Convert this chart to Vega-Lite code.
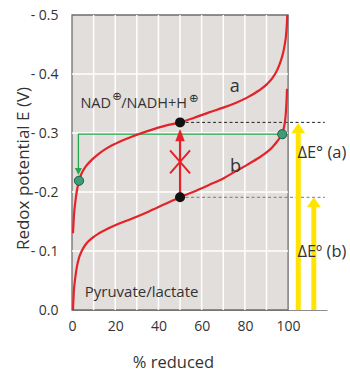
{
  "$schema": "https://vega.github.io/schema/vega-lite/v6.json",
  "width": 255,
  "height": 295,
  "autosize": "none",
  "padding": {"left": 72, "top": 15, "right": 23, "bottom": 64},
  "config": {"view": {"stroke": null}, "font": "Open Sans"},
  "encoding": {
    "x": {"field": "pct", "type": "quantitative",
      "scale": {"domain": [0, 118], "nice": false, "zero": false},
      "axis": {"values": [0, 20, 40, 60, 80, 100], "title": "% reduced", "grid": false, "ticks": false,
        "labelPadding": 9, "labelFontSize": 14, "labelColor": "#333", "labelFont": "Open Sans", "labelFlush": false,
        "domainColor": "#8c8c8c", "domainWidth": 1.2,
        "titleFont": "Open Sans", "titleFontSize": 16.5, "titleFontWeight": "normal", "titleColor": "#333",
        "titleX": 101, "titleY": 52, "titleAlign": "center", "titleBaseline": "middle"}},
    "y": {"field": "E", "type": "quantitative",
      "scale": {"domain": [-0.5, 0], "reverse": true, "nice": false},
      "axis": {"values": [-0.5, -0.4, -0.3, -0.2, -0.1, 0],
        "labelExpr": "datum.value == 0 ? '0.0' : (abs(datum.value + 0.2) < 0.001 ? '-0.2' : '- ' + format(-datum.value, '.1f'))",
        "title": "Redox potential E (V)", "grid": false, "ticks": false, "domain": false,
        "labelPadding": 14, "labelFontSize": 14, "labelColor": "#333", "labelFont": "Open Sans",
        "titleFont": "Open Sans", "titleFontSize": 17, "titleFontWeight": "normal", "titleColor": "#333",
        "titleX": -49, "titleY": 153, "titleAngle": -90, "titleAlign": "center", "titleBaseline": "middle"}}
  },
  "layer": [
    {"data": {"values": [{"pct": 0, "pct2": 100, "E": -0.5, "E2": 0}]},
     "mark": {"type": "rect", "fill": "#e2dedb", "stroke": "#6e6e6e", "strokeWidth": 1.3},
     "encoding": {"x2": {"field": "pct2"}, "y2": {"field": "E2"}}},
    {"data": {"values": [
      {"pct": 10, "E": -0.5, "E2": 0}, {"pct": 20, "E": -0.5, "E2": 0}, {"pct": 30, "E": -0.5, "E2": 0},
      {"pct": 40, "E": -0.5, "E2": 0}, {"pct": 50, "E": -0.5, "E2": 0}, {"pct": 60, "E": -0.5, "E2": 0},
      {"pct": 70, "E": -0.5, "E2": 0}, {"pct": 80, "E": -0.5, "E2": 0}, {"pct": 90, "E": -0.5, "E2": 0}]},
     "mark": {"type": "rule", "stroke": "#ffffff", "strokeWidth": 1.5},
     "encoding": {"y2": {"field": "E2"}}},
    {"data": {"values": [
      {"pct": 0, "pct2": 100, "E": -0.1}, {"pct": 0, "pct2": 100, "E": -0.2},
      {"pct": 0, "pct2": 100, "E": -0.3}, {"pct": 0, "pct2": 100, "E": -0.4}]},
     "mark": {"type": "rule", "stroke": "#ffffff", "strokeWidth": 1.5},
     "encoding": {"x2": {"field": "pct2"}}},
    {"data": {"values": [{"pct": 50, "pct2": 117, "E": -0.318, "line": "a"}, {"pct": 50, "pct2": 117, "E": -0.191, "line": "b"}]},
     "mark": {"type": "rule", "strokeDash": [3, 2.5], "strokeWidth": 1},
     "encoding": {"x2": {"field": "pct2"}, "color": {"field": "line", "type": "nominal", "scale": {"range": ["#222222", "#777777"]}, "legend": null}}},
    {"data": {"values": [{"pct": 97.3, "E": -0.298, "ord": 1}, {"pct": 2.96, "E": -0.298, "ord": 2}, {"pct": 2.96, "E": -0.238, "ord": 3}]},
     "mark": {"type": "line", "color": "#23a84e", "strokeWidth": 1.3},
     "encoding": {"order": {"field": "ord", "type": "quantitative"}}},
    {"data": {"values": [{"pct": 2.96, "E": -0.229}]},
     "mark": {"type": "point", "shape": "M0,0L1,-2L-1,-2Z", "filled": true, "color": "#23a84e", "size": 49, "opacity": 1}},
    {"data": {"values": [
      {"curve": "a", "pct": 0.46, "E": -0.130}, {"curve": "a", "pct": 0.9, "E": -0.160}, {"curve": "a", "pct": 1.25, "E": -0.174},
      {"curve": "a", "pct": 1.7, "E": -0.188}, {"curve": "a", "pct": 2.3, "E": -0.203}, {"curve": "a", "pct": 3.24, "E": -0.219},
      {"curve": "a", "pct": 4.5, "E": -0.232}, {"curve": "a", "pct": 6.3, "E": -0.243}, {"curve": "a", "pct": 9, "E": -0.254},
      {"curve": "a", "pct": 12.5, "E": -0.265}, {"curve": "a", "pct": 16, "E": -0.274}, {"curve": "a", "pct": 20.2, "E": -0.282},
      {"curve": "a", "pct": 27.9, "E": -0.294}, {"curve": "a", "pct": 35.6, "E": -0.304}, {"curve": "a", "pct": 43.3, "E": -0.3125},
      {"curve": "a", "pct": 50, "E": -0.318}, {"curve": "a", "pct": 56, "E": -0.325}, {"curve": "a", "pct": 63.4, "E": -0.335},
      {"curve": "a", "pct": 70, "E": -0.343}, {"curve": "a", "pct": 75.7, "E": -0.351}, {"curve": "a", "pct": 81, "E": -0.360},
      {"curve": "a", "pct": 86.5, "E": -0.372}, {"curve": "a", "pct": 90, "E": -0.382}, {"curve": "a", "pct": 92.7, "E": -0.393},
      {"curve": "a", "pct": 95, "E": -0.407}, {"curve": "a", "pct": 96.5, "E": -0.421}, {"curve": "a", "pct": 97.7, "E": -0.436},
      {"curve": "a", "pct": 98.5, "E": -0.451}, {"curve": "a", "pct": 99, "E": -0.464}, {"curve": "a", "pct": 99.3, "E": -0.477},
      {"curve": "a", "pct": 99.5, "E": -0.489}, {"curve": "a", "pct": 99.6, "E": -0.500},
      {"curve": "b", "pct": 0.46, "E": 0}, {"curve": "b", "pct": 0.9, "E": -0.034}, {"curve": "b", "pct": 1.25, "E": -0.047},
      {"curve": "b", "pct": 1.7, "E": -0.060}, {"curve": "b", "pct": 2.3, "E": -0.074}, {"curve": "b", "pct": 3.2, "E": -0.088},
      {"curve": "b", "pct": 4.5, "E": -0.100}, {"curve": "b", "pct": 6.3, "E": -0.111}, {"curve": "b", "pct": 9, "E": -0.121},
      {"curve": "b", "pct": 12.5, "E": -0.130}, {"curve": "b", "pct": 16, "E": -0.137}, {"curve": "b", "pct": 20.2, "E": -0.144},
      {"curve": "b", "pct": 27.9, "E": -0.155}, {"curve": "b", "pct": 35.6, "E": -0.167}, {"curve": "b", "pct": 43.3, "E": -0.180},
      {"curve": "b", "pct": 50, "E": -0.191}, {"curve": "b", "pct": 56, "E": -0.200}, {"curve": "b", "pct": 63.4, "E": -0.212},
      {"curve": "b", "pct": 70, "E": -0.223}, {"curve": "b", "pct": 75.7, "E": -0.235}, {"curve": "b", "pct": 81, "E": -0.246},
      {"curve": "b", "pct": 86.5, "E": -0.258}, {"curve": "b", "pct": 90, "E": -0.267}, {"curve": "b", "pct": 92.7, "E": -0.276},
      {"curve": "b", "pct": 95, "E": -0.286}, {"curve": "b", "pct": 96.5, "E": -0.294}, {"curve": "b", "pct": 97.3, "E": -0.300},
      {"curve": "b", "pct": 98, "E": -0.308}, {"curve": "b", "pct": 98.5, "E": -0.318}, {"curve": "b", "pct": 99, "E": -0.336},
      {"curve": "b", "pct": 99.3, "E": -0.356}, {"curve": "b", "pct": 99.5, "E": -0.375}
    ]},
     "mark": {"type": "line", "color": "#e3232a", "strokeWidth": 2.2, "interpolate": "monotone"},
     "encoding": {"detail": {"field": "curve", "type": "nominal"}}},
    {"data": {"values": [{"pct": 50, "E": -0.191, "E2": -0.287}]},
     "mark": {"type": "rule", "color": "#e3232a", "strokeWidth": 2.2},
     "encoding": {"y2": {"field": "E2"}}},
    {"data": {"values": [{"pct": 50, "E": -0.307}]},
     "mark": {"type": "point", "shape": "M0,0L1,2.6L-1,2.6Z", "filled": true, "color": "#e3232a", "size": 90, "opacity": 1}},
    {"data": {"values": [{"pct": 50, "E": -0.251}]},
     "mark": {"type": "point", "shape": "M-1,-1.15L1,1.15M-1,1.15L1,-1.15", "filled": false, "stroke": "#e3232a", "strokeWidth": 2, "size": 400, "opacity": 1}},
    {"data": {"values": [{"pct": 50, "E": -0.318}, {"pct": 50, "E": -0.191}]},
     "mark": {"type": "circle", "color": "#111111", "size": 100, "opacity": 1}},
    {"data": {"values": [{"pct": 3.24, "E": -0.219}, {"pct": 97.3, "E": -0.298}]},
     "mark": {"type": "circle", "fill": "#3d9b78", "stroke": "#1e5e44", "strokeWidth": 1, "size": 85, "opacity": 1}},
    {"data": {"values": [{"pct": 104.7, "E": 0, "E2": -0.2995}, {"pct": 111.9, "E": 0, "E2": -0.175}]},
     "mark": {"type": "rule", "color": "#ffe400", "strokeWidth": 5},
     "encoding": {"y2": {"field": "E2"}}},
    {"data": {"values": [{"pct": 104.7, "E": -0.3164}, {"pct": 111.9, "E": -0.191}]},
     "mark": {"type": "point", "shape": "M0,0L1,1.43L-1,1.43Z", "filled": true, "color": "#ffe400", "size": 196, "opacity": 1}},
    {"data": {"values": [{"pct": 3.9, "E": -0.342, "label": "NAD"}, {"pct": 22.8, "E": -0.342, "label": "/NADH+H"}]},
     "mark": {"type": "text", "align": "left", "baseline": "alphabetic", "fontSize": 14.5, "color": "#333333", "font": "Open Sans"},
     "encoding": {"text": {"field": "label"}}},
    {"data": {"values": [{"pct": 5.9, "E": -0.0225, "label": "Pyruvate/lactate"}]},
     "mark": {"type": "text", "align": "left", "baseline": "alphabetic", "fontSize": 15, "color": "#333333", "font": "Open Sans"},
     "encoding": {"text": {"field": "label"}}},
    {"data": {"values": [{"pct": 20.9, "E": -0.3602, "label": "⊕"}, {"pct": 56.4, "E": -0.3576, "label": "⊕"}]},
     "mark": {"type": "text", "align": "center", "baseline": "middle", "fontSize": 11.5, "color": "#333333", "font": "DejaVu Sans"},
     "encoding": {"text": {"field": "label"}}},
    {"data": {"values": [{"pct": 75.3, "E": -0.370, "label": "a"}, {"pct": 75.7, "E": -0.2344, "label": "b"}]},
     "mark": {"type": "text", "align": "center", "baseline": "alphabetic", "fontSize": 18, "color": "#333333", "font": "Open Sans"},
     "encoding": {"text": {"field": "label"}}},
    {"data": {"values": [{"pct": 104.3, "E": -0.257, "label": "ΔE° (a)"}, {"pct": 104.3, "E": -0.0904, "label": "ΔEº (b)"}]},
     "mark": {"type": "text", "align": "left", "baseline": "alphabetic", "fontSize": 16.5, "color": "#333333", "font": "Open Sans"},
     "encoding": {"text": {"field": "label"}}}
  ]
}
